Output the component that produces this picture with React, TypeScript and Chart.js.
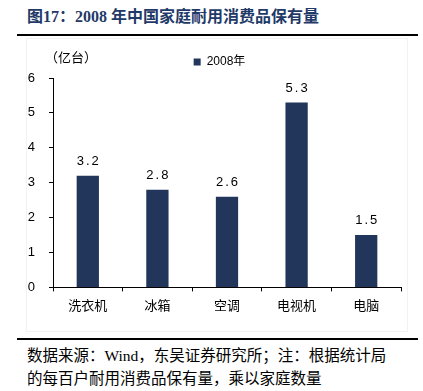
import React, { useEffect, useRef } from "react";
import { Chart, registerables } from "chart.js";

Chart.register(...registerables);

const categories = ["洗衣机", "冰箱", "空调", "电视机", "电脑"];
const values2008 = [3.2, 2.8, 2.6, 5.3, 1.5];
const seriesName = "2008年";
const yTicks = [0, 1, 2, 3, 4, 5, 6];
const titleText = "图17：2008 年中国家庭耐用消费品保有量";
const unitText = "（亿台）";
const footerLines = [
  "数据来源：Wind，东吴证券研究所；注：根据统计局",
  "的每百户耐用消费品保有量，乘以家庭数量",
];

const BAR = "#22355b";
const NAVY = "#1f3a68";

const labelPlugin = {
  id: "valueLabels",
  afterLayout(chart: any) {
    const lg = chart.legend;
    if (lg) {
      lg.left += 19;
      lg.right += 19;
    }
  },
  afterDatasetsDraw(chart: any) {
    const ctx = chart.ctx;
    const meta = chart.getDatasetMeta(0);
    ctx.save();
    ctx.fillStyle = "#000";
    ctx.font = "13px 'Liberation Sans', Arial, sans-serif";
    (ctx as any).letterSpacing = "2px";
    ctx.textAlign = "center";
    ctx.textBaseline = "bottom";
    meta.data.forEach((el: any, i: number) => {
      ctx.fillText(values2008[i].toFixed(1), el.x + 1, el.y - 8);
    });
    ctx.restore();
  },
};

function BarChart() {
  const ref = useRef<HTMLCanvasElement>(null);
  useEffect(() => {
    if (!ref.current) return;
    const chart = new Chart(ref.current, {
      type: "bar",
      data: {
        labels: categories,
        datasets: [
          {
            label: seriesName,
            data: values2008,
            backgroundColor: BAR,
            borderWidth: 0,
            barPercentage: 0.64,
            categoryPercentage: 0.5,
          },
        ],
      },
      options: {
        animation: false,
        responsive: false,
        maintainAspectRatio: false,
        layout: { padding: { left: 0, right: 22, top: 4, bottom: 13 } },
        plugins: {
          legend: {
            display: true,
            position: "top",
            align: "center",
            labels: {
              boxWidth: 7,
              boxHeight: 7,
              padding: 12,
              color: "#000",
              font: { size: 12, family: "'Liberation Sans', 'Noto Sans CJK SC', sans-serif" },
            },
          },
          tooltip: { enabled: false },
        },
        scales: {
          x: {
            offset: true,
            grid: {
              offset: true,
              drawOnChartArea: false,
              drawTicks: true,
              tickLength: 4,
              color: "#000",
            },
            border: { display: true, color: "#000", width: 1 },
            ticks: {
              color: "#000",
              padding: 6,
              font: { size: 13, family: "'Noto Sans CJK SC', sans-serif" },
            },
          },
          y: {
            min: 0,
            max: 6,
            afterFit: (scale: any) => {
              scale.width = 53;
            },
            afterBuildTicks: (scale: any) => {
              scale.ticks = yTicks.map((v) => ({ value: v }));
            },
            grid: {
              drawOnChartArea: false,
              drawTicks: true,
              tickLength: 4,
              color: "#000",
            },
            border: { display: true, color: "#000", width: 1 },
            ticks: {
              color: "#000",
              padding: 14,
              font: { size: 13, family: "'Liberation Sans', Arial, sans-serif" },
            },
          },
        },
      },
      plugins: [labelPlugin],
    });
    return () => chart.destroy();
  }, []);
  return <canvas ref={ref} width={423} height={292} style={{ display: "block", width: 423, height: 292 }} />;
}

export default function App() {
  return (
    <div
      style={{
        position: "absolute",
        left: 0,
        top: 0,
        width: 423,
        height: 391,
        background: "#fff",
        overflow: "hidden",
      }}
    >
      <div
        style={{
          position: "absolute",
          left: 27,
          top: 6,
          fontFamily: "'Liberation Serif', 'Noto Sans CJK SC', serif",
          fontWeight: "bold",
          fontSize: 16,
          color: NAVY,
          whiteSpace: "nowrap",
          lineHeight: "22px",
        }}
      >
        {titleText}
      </div>
      <div style={{ position: "absolute", left: 17, top: 34, width: 401, height: 2, background: "#000" }} />
      <div
        style={{
          position: "absolute",
          left: 26,
          top: 38,
          width: 382,
          height: 294,
          border: "1px solid #f2f2f2",
          boxSizing: "border-box",
        }}
      />
      <div style={{ position: "absolute", left: 0, top: 40 }}>
        <BarChart />
      </div>
      <div
        style={{
          position: "absolute",
          left: 45,
          top: 48,
          fontFamily: "'Noto Sans CJK SC', sans-serif",
          fontSize: 13,
          color: "#000",
          whiteSpace: "nowrap",
          lineHeight: "18px",
        }}
      >
        {unitText}
      </div>
      <div style={{ position: "absolute", left: 17, top: 338, width: 401, height: 2, background: "#000" }} />
      <div
        style={{
          position: "absolute",
          left: 27,
          top: 344,
          fontFamily: "'Liberation Serif', 'Noto Sans CJK SC', serif",
          fontSize: 15.5,
          color: "#000",
          lineHeight: "23px",
          whiteSpace: "nowrap",
        }}
      >
        {footerLines.map((l, i) => (
          <div key={i}>{l}</div>
        ))}
      </div>
    </div>
  );
}
